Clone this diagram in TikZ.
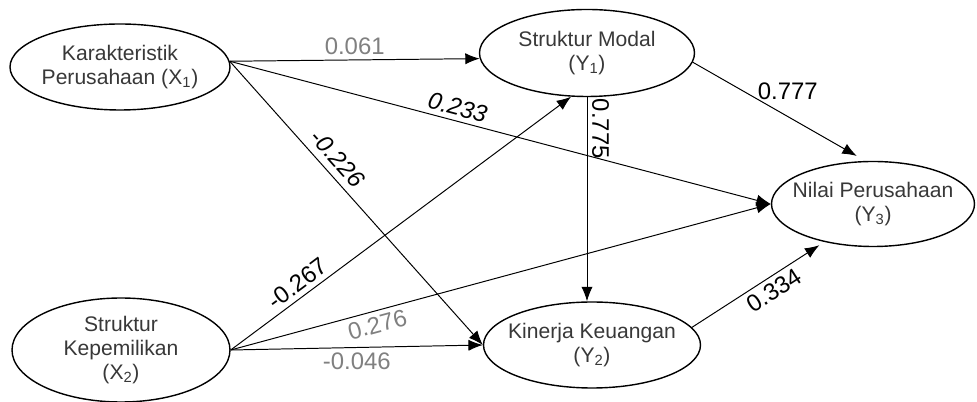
\documentclass[tikz,border=0pt]{standalone}
\usepackage{fontspec}
\setmainfont{Liberation Sans}
\usepackage{tikz}
\usetikzlibrary{arrows.meta, shapes}
\definecolor{tekst}{gray}{0.22}
\definecolor{sivo}{gray}{0.5}
\tikzset{strelica/.style={-{Latex[length=3.6mm,width=2.8mm]}, line width=0.7pt}}
\tikzset{elipsa/.style={draw, ellipse, line width=1pt, inner xsep=-4mm, inner ysep=0pt,
    align=center, text=tekst, font=\fontsize{15}{17}\selectfont}}
\tikzset{koef/.style={font=\fontsize{17}{17}\selectfont}}

\begin{document}
\begin{tikzpicture}
    \useasboundingbox (0, 0) rectangle (24.425, 10.05);

    %konstrukti
    \node[elipsa, minimum width=5.5cm, minimum height=2.15cm] (x1) at (3.0, 8.375)
        {Karakteristik\\Perusahaan (X\textsubscript{1})};
    \node[elipsa, minimum width=5.45cm, minimum height=2.6cm] (x2) at (3.025, 1.3)
        {Struktur\\Kepemilikan\\(X\textsubscript{2})};
    \node[elipsa, minimum width=5.375cm, minimum height=2.175cm] (y1) at (14.675, 8.725)
        {Struktur Modal\\(Y\textsubscript{1})};
    \node[elipsa, minimum width=5.425cm, minimum height=2.15cm] (y2) at (14.8, 1.425)
        {Kinerja Keuangan\\(Y\textsubscript{2})};
    \node[elipsa, minimum width=5.075cm, minimum height=2.125cm] (y3) at (21.825, 4.95)
        {Nilai Perusahaan\\(Y\textsubscript{3})};

    %od X1
    \draw[strelica] (x1.3) -- (y1.183)
        node[koef, text=sivo, midway, above] {0.061};
    \draw[strelica] (x1.3) -- (y3.west)
        node[koef, pos=0.415, sloped, above] {\itshape 0.233};
    \draw[strelica] (x1.3) -- (y2.west)
        node[koef, pos=0.38, sloped, above=0.5mm] {\itshape -0.226};

    %od X2
    \draw[strelica] (x2.east) -- (y1.250)
        node[koef, pos=0.22, sloped, above] {-0.267};
    \draw[strelica] (x2.east) -- (y3.west)
        node[koef, text=sivo, pos=0.265, sloped, below] {0.276};
    \draw[strelica] (x2.east) -- (y2.west)
        node[koef, text=sivo, midway, below] {-0.046};

    %medjusobno
    \draw[strelica] (y1.south) -- (y1.south |- y2.north)
        node[koef, pos=0.155, sloped, above] {0.775};
    \draw[strelica, shorten >=2.5mm] (y1.-5) -- (y3.100)
        node[koef, pos=0.55, above=3mm] {0.777};
    \draw[strelica, shorten >=1.5mm] (y2.10) -- (y3.218)
        node[koef, pos=0.565, sloped, below] {0.334};
\end{tikzpicture}
\end{document}
